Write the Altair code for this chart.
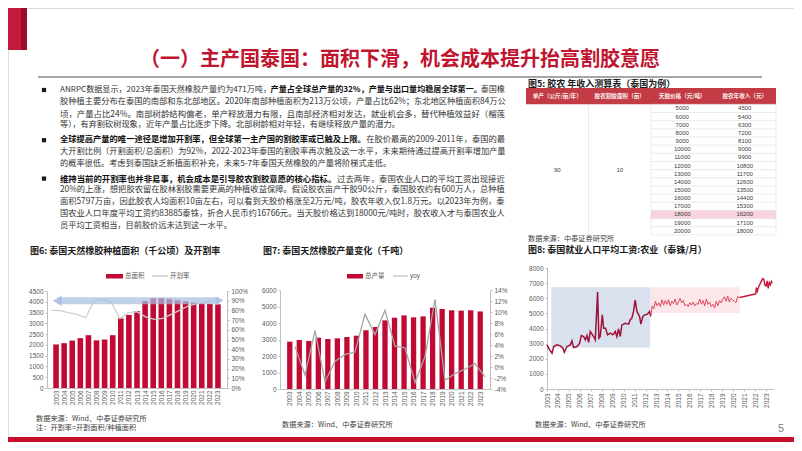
import altair as alt
import pandas as pd

# ---------------- data ----------------
years = list(range(2003, 2024))
area_kha = [2020, 2080, 2200, 2310, 2450, 2210, 2250, 2450, 3230, 3390, 3570,
            4040, 4160, 4170, 4130, 4070, 4020, 3960, 3930, 3900, 3880]
tap_rate_pct = [80.0, 79.7, 77.6, 75.9, 72.4, 90.0, 91.7, 88.3, 71.7, 77.6, 78.6,
                73.4, 70.7, 71.7, 75.9, 80.3, 84.8, 86.9, 88.3, 90.3, 91.3]
production_kt = [2870, 2970, 2910, 3110, 3030, 3070, 3150, 3230, 3560, 3760, 4160,
                 4320, 4460, 4340, 4400, 4930, 4850, 4770, 4750, 4770, 4700]
yoy_pct = [None, 3.7, -1.5, 6.6, -2.7, 1.0, 2.3, 2.7, 9.6, 5.9, 10.3,
           3.8, 3.5, -2.8, 1.9, 12.3, -2.4, -1.2, -0.4, 0.6, -1.8]

wage_a_t = [2003.00, 2003.24, 2003.46, 2003.61, 2003.91, 2004.22, 2004.46, 2004.58, 2004.82,
            2005.13, 2005.28, 2005.43, 2005.74, 2005.98, 2006.13, 2006.34, 2006.50, 2006.65,
            2006.80, 2006.95, 2007.26, 2007.41, 2007.62, 2007.74, 2007.86, 2008.05, 2008.17,
            2008.35, 2008.53, 2008.78, 2009.02, 2009.23, 2009.38, 2009.53, 2009.69, 2009.84,
            2010.14, 2010.45, 2010.60, 2010.75, 2010.90, 2011.05, 2011.21, 2011.45, 2011.57,
            2011.75, 2011.97, 2012.18, 2012.36, 2012.48]
wage_a_v = [2920, 2590, 2370, 2810, 2920, 2850, 2700, 2430, 2810,
            2920, 3180, 2740, 2810, 3030, 3540, 3470, 3250, 3540,
            3090, 3800, 3470, 3250, 6410, 3360, 3470, 4910, 4020,
            4020, 3580, 3690, 3580, 3800, 3470, 3980, 3470, 4240,
            4350, 4290, 4580, 4690, 5130, 5880, 5130, 4800, 4290,
            4800, 4910, 4950, 5130, 4800]
wage_b_t = [2012.48, 2012.6, 2012.75, 2012.9,
            2013.05, 2013.2, 2013.35, 2013.5, 2013.65, 2013.8, 2013.95,
            2014.1, 2014.25, 2014.4, 2014.55, 2014.7, 2014.85,
            2015.0, 2015.15, 2015.3, 2015.45, 2015.6, 2015.75, 2015.9,
            2016.05, 2016.2, 2016.35, 2016.5, 2016.65, 2016.8, 2016.95,
            2017.1, 2017.25, 2017.4, 2017.55, 2017.7, 2017.85,
            2018.0, 2018.15, 2018.3, 2018.45, 2018.6, 2018.75, 2018.9,
            2019.05, 2019.2, 2019.35, 2019.5, 2019.65, 2019.8, 2019.95,
            2020.1, 2020.25, 2020.4, 2020.6]
wage_b_v = [4800, 5500, 5300, 5800,
            5500, 5700, 5450, 5900, 5550, 5850, 5600,
            5900, 5500, 5800, 5650, 5950, 5550,
            5750, 6000, 5700, 5850, 5500, 5600, 5450,
            5700, 5550, 5750, 5500, 5650, 5600, 5950,
            5600, 5850, 5500, 5950, 5600, 5750,
            5450, 5600, 5350, 5800, 5500, 5850, 5700,
            5950, 6100, 5800, 6150, 5750, 6000, 5900,
            5800, 5700, 6100, 6050]
wage_c_t = [2020.6, 2022.0, 2022.05, 2022.12, 2022.2, 2022.35, 2022.55, 2022.7, 2022.8,
            2022.9, 2023.0, 2023.1, 2023.2, 2023.3, 2023.4, 2023.5, 2023.55]
wage_c_v = [6050, 6280, 6300, 6700, 6450, 6800, 7100, 7300, 7250,
            6850, 6800, 7150, 6650, 7050, 6900, 7100, 7000]

blue_box = [2003.4, 2012.42, 2740, 6720]   # year0, year1, value0, value1
pink_box = [2012.42, 2020.6, 5020, 6720]
arrow_span = [2003.7, 2022.6, 4050]        # arrow annotation (years, level)

table_headers = ["单产（公斤/亩/年）", "胶农割胶面积（亩）", "天胶价格（元/吨）", "胶农年收入（元）"]
table_price = [5000, 6000, 7000, 8000, 9000, 10000, 11000, 12000, 13000, 14000,
               15000, 16000, 17000, 18000, 19000, 20000]
table_income = [4500, 5400, 6300, 7200, 8100, 9000, 9900, 10800, 11700, 12600,
                 13500, 14400, 15300, 16200, 17100, 18000]
table_yield = "90"
table_area = "10"
highlight_price = 18000

title_text = "（一）主产国泰国：面积下滑，机会成本提升抬高割胶意愿"
body_lines = [
    [("ANRPC数据显示，2023年泰国天然橡胶产量约为471万吨，", False),
     ("产量占全球总产量的32%，产量与出口量均稳居全球第一。", True), ("泰国橡", False)],
    [("胶种植主要分布在泰国的南部和东北部地区。2020年南部种植面积为213万公顷，产量占比62%；东北地区种植面积84万公", False)],
    [("顷，产量占比24%。南部树龄结构偏老，单产释放潜力有限，且南部经济相对发达，就业机会多，替代种植效益好（榴莲", False)],
    [("等），有弃割砍树现象，近年产量占比逐步下降。北部树龄相对年轻，有继续释放产量的潜力。", False)],
    [("全球提高产量的唯一途径是增加开割率，但全球第一主产国的割胶率或已触及上限。", True),
     ("在胶价最高的2009-2011年，泰国的最", False)],
    [("大开割比例（开割面积/总面积）为92%，2022-2023年泰国的割胶率再次触及这一水平，未来期待通过提高开割率增加产量", False)],
    [("的概率很低。考虑到泰国缺乏新植面积补充，未来5-7年泰国天然橡胶的产量将阶梯式走低。", False)],
    [("维持当前的开割率也并非易事，机会成本是引导胶农割胶意愿的核心指标。", True),
     ("过去两年，泰国农业人口的平均工资出现接近", False)],
    [("20%的上涨，想把胶农留在胶林割胶需要更高的种植收益保障。假设胶农亩产干胶90公斤，泰国胶农约有600万人，总种植", False)],
    [("面积5797万亩，因此胶农人均面积10亩左右，可以看到天胶价格涨至2万元/吨，胶农年收入仅1.8万元。以2023年为例，泰", False)],
    [("国农业人口年度平均工资约83885泰铢，折合人民币约16766元。当天胶价格达到18000元/吨时，胶农收入才与泰国农业人", False)],
    [("员平均工资相当，目前胶价远未达到这一水平。", False)],
]
paragraph_ends = [3, 6, 11]
fig5_title = "图5: 胶农 年收入测算表（泰国为例）"
fig6_title = "图6: 泰国天然橡胶种植面积（千公顷）及开割率"
fig7_title = "图7: 泰国天然橡胶产量变化（千吨）"
fig8_title = "图8: 泰国就业人口平均工资:农业（泰铢/月）"
src_zt = "数据来源：中泰证券研究所"
src_wind = "数据来源：Wind、中泰证券研究所"
note6 = "注：开割率=开割面积/种植面积"
legend6 = ["总面积", "开割率"]
legend7 = ["总产量", "yoy"]
page_no = "5"

# ---------------- styling / layout ----------------
W, H = 786, 435
RED = "#c00a34"
TITLE_RED = "#c0152f"
FONT = "Noto Sans CJK SC"
AXFONT = "Liberation Sans"
LBL = "#595959"
AXC = "#bfbfbf"


def em_w(s):
    w = 0.0
    for ch in s:
        o = ord(ch)
        if o >= 0x2E80:
            w += 1.0
        elif ch.isdigit():
            w += 0.553
        elif ch == "%":
            w += 0.85
        elif ch in ".,:;":
            w += 0.28
        elif ch == "-":
            w += 0.34
        elif ch == "/":
            w += 0.36
        elif ch.isupper():
            w += 0.63
        elif ch == " ":
            w += 0.22
        else:
            w += 0.5
    return w


def px_text(rows, **kw):
    df = pd.DataFrame(rows, columns=["x", "y", "text"])
    kw.setdefault("font", FONT)
    kw.setdefault("baseline", "middle")
    kw.setdefault("align", "left")
    return alt.Chart(df).mark_text(**kw).encode(
        x=alt.X("x:Q", scale=None, axis=None),
        y=alt.Y("y:Q", scale=None, axis=None),
        text="text:N")


def px_text_sized(rows, **kw):
    df = pd.DataFrame(rows, columns=["x", "y", "text", "fs"])
    kw.setdefault("font", FONT)
    kw.setdefault("baseline", "middle")
    kw.setdefault("align", "left")
    return alt.Chart(df).mark_text(**kw).encode(
        x=alt.X("x:Q", scale=None, axis=None),
        y=alt.Y("y:Q", scale=None, axis=None),
        size=alt.Size("fs:Q", scale=None, legend=None),
        text="text:N")


def px_rect(rows, **kw):
    df = pd.DataFrame(rows, columns=["x", "x2", "y", "y2"])
    return alt.Chart(df).mark_rect(**kw).encode(
        x=alt.X("x:Q", scale=None, axis=None), x2="x2:Q",
        y=alt.Y("y:Q", scale=None, axis=None), y2="y2:Q")


def px_rule(rows, **kw):
    df = pd.DataFrame(rows, columns=["x", "x2", "y"])
    return alt.Chart(df).mark_rule(**kw).encode(
        x=alt.X("x:Q", scale=None, axis=None), x2="x2:Q",
        y=alt.Y("y:Q", scale=None, axis=None))


def lin(domain, rng):
    return alt.Scale(domain=domain, range=rng, nice=False, zero=False)


def year_axis(ybase, ticks=False):
    return alt.Axis(orient="bottom", offset=ybase - H, values=years, format="d",
                    labelAngle=-90, labelFont=AXFONT, labelFontSize=6.5, labelColor=LBL,
                    domainColor=AXC, ticks=ticks, tickColor=AXC, tickSize=2, grid=False,
                    title=None, labelPadding=2, labelOverlap=False, labelFlush=False)


def val_axis(orient, xpos, values, fmt=None, expr=None):
    off = -xpos if orient == "left" else xpos - W
    kw = dict(orient=orient, offset=off, values=values, labelFont=AXFONT,
              labelFontSize=6.5, labelColor=LBL, domainColor=AXC, tickColor=AXC,
              tickSize=2, grid=False, title=None, labelPadding=2,
              labelOverlap=False, labelFlush=False)
    if fmt:
        kw["format"] = fmt
    if expr:
        kw["labelExpr"] = expr
    return alt.Axis(**kw)


layers = []

# slide decoration
layers.append(px_rect([(0, 13, 0, 42)], color="#c11a3c"))
layers.append(px_rect([(13, 19, 0, 42)], color="#9c0b2b"))
layers.append(px_rule([(30, 754, 69)], color="#a6a6a6", strokeWidth=2))
layers.append(px_rect([(0, W, 429, 434)], color="#c8102e"))
layers.append(px_text([(392, 52, title_text)], fontSize=20, fontWeight="bold",
                      color=TITLE_RED, align="center"))

# body text (full lines justified to the column width)
body_y = [82, 93.8, 105.6, 117.4, 132.2, 144, 155.8, 170.6, 182.4, 194.2, 206, 217.8]
BODY_FS = 8.2
TEXT_X0, TEXT_W = 52, 445
rows_n, rows_b = [], []
for i, (segs, y) in enumerate(zip(body_lines, body_y)):
    total_em = sum(em_w(s) for s, _ in segs)
    fs = BODY_FS if i in paragraph_ends else max(7.8, min(8.7, TEXT_W / total_em))
    x = TEXT_X0
    for s, bold in segs:
        (rows_b if bold else rows_n).append((x, y, s, fs))
        x += em_w(s) * fs
layers.append(px_text_sized(rows_n, color="#333333"))
layers.append(px_text_sized(rows_b, color="#111111", fontWeight="bold"))
bul = pd.DataFrame({"x": [36, 36, 36], "y": [82, 132.2, 170.6]})
layers.append(alt.Chart(bul).mark_square(size=18, color="#1a1a1a", opacity=1).encode(
    x=alt.X("x:Q", scale=None, axis=None), y=alt.Y("y:Q", scale=None, axis=None)))

# figure titles and sources
layers.append(px_text([(520, 76, fig5_title), (520, 242, fig8_title),
                       (22, 243, fig6_title), (255, 243, fig7_title)],
                      fontSize=9, fontWeight="bold", color="#1a1a1a"))
layers.append(px_text([(520, 231, src_zt), (28, 411, src_wind), (28, 420, note6),
                       (274, 417, src_wind), (527, 417, src_wind)],
                      fontSize=7.2, color="#404040"))
layers.append(px_text([(770, 421, page_no)], font=AXFONT, fontSize=11, color="#7f7f7f"))

# ---------------- table (Fig 5) ----------------
TX = lin([0, 4], [518, 768])
TY = lin([-2, 16], [80, 226.9])
hdr = pd.DataFrame({"x0": [0], "x1": [4], "y0": [-2], "y1": [0]})
layers.append(alt.Chart(hdr).mark_rect(color="#c23b45").encode(
    x=alt.X("x0:Q", scale=TX, axis=None), x2="x1:Q",
    y=alt.Y("y0:Q", scale=TY, axis=None), y2="y1:Q"))
hi_row = table_price.index(highlight_price)
hil = pd.DataFrame({"x0": [2], "x1": [4], "y0": [hi_row], "y1": [hi_row + 1]})
layers.append(alt.Chart(hil).mark_rect(color="#f9d3dd").encode(
    x=alt.X("x0:Q", scale=TX, axis=None), x2="x1:Q",
    y=alt.Y("y0:Q", scale=TY, axis=None), y2="y1:Q"))
hl = pd.DataFrame({"x0": 2, "x1": 4, "y": list(range(0, 17))})
layers.append(alt.Chart(hl).mark_rule(color="#dedede", strokeWidth=0.6).encode(
    x=alt.X("x0:Q", scale=TX, axis=None), x2="x1:Q",
    y=alt.Y("y:Q", scale=TY, axis=None)))
vl = pd.DataFrame({"x": [1, 2, 4], "y0": 0, "y1": 16})
layers.append(alt.Chart(vl).mark_rule(color="#dedede", strokeWidth=0.6).encode(
    x=alt.X("x:Q", scale=TX, axis=None),
    y=alt.Y("y0:Q", scale=TY, axis=None), y2="y1:Q"))
hdr_t = pd.DataFrame({"c": [0.5, 1.5, 2.5, 3.5], "r": -1, "text": table_headers})
layers.append(alt.Chart(hdr_t).mark_text(font=FONT, fontSize=5.6, fontWeight="bold",
                                         color="#fff2f2", baseline="middle").encode(
    x=alt.X("c:Q", scale=TX, axis=None), y=alt.Y("r:Q", scale=TY, axis=None), text="text:N"))
cells = pd.DataFrame({
    "c": [2.5] * 16 + [3.5] * 16 + [0.5, 1.5],
    "r": [i + 0.5 for i in range(16)] * 2 + [8, 8],
    "text": [str(v) for v in table_price] + [str(v) for v in table_income] + [table_yield, table_area]})
layers.append(alt.Chart(cells).mark_text(font=AXFONT, fontSize=6, color="#404040",
                                         baseline="middle").encode(
    x=alt.X("c:Q", scale=TX, axis=None), y=alt.Y("r:Q", scale=TY, axis=None), text="text:N"))

# ---------------- Fig 6 ----------------
df6 = pd.DataFrame({"year": years, "area": area_kha, "rate": tap_rate_pct})
X6 = lin([2002.5, 2023.5], [39, 219])
layers.append(alt.Chart(df6).mark_bar(color=RED, size=5.6).encode(
    x=alt.X("year:Q", scale=X6, axis=year_axis(380)),
    y=alt.Y("area:Q", scale=lin([0, 4500], [380, 283]),
            axis=val_axis("left", 39, list(range(0, 4501, 500)), fmt="d"))))
layers.append(alt.Chart(df6).mark_line(color="#cfcfcf", strokeWidth=1.3).encode(
    x=alt.X("year:Q", scale=X6, axis=None),
    y=alt.Y("rate:Q", scale=lin([0, 100], [380, 283]),
            axis=val_axis("right", 219, list(range(0, 101, 10)), expr="datum.value + '%'"))))
arr = pd.DataFrame({"x0": [arrow_span[0]], "x1": [arrow_span[1]], "v": [arrow_span[2]]})
layers.append(alt.Chart(arr).mark_rule(color="#a9bfe0", strokeWidth=7, opacity=0.72).encode(
    x=alt.X("x0:Q", scale=X6, axis=None), x2="x1:Q",
    y=alt.Y("v:Q", scale=lin([0, 4500], [380, 283]), axis=None)))
layers.append(alt.Chart(arr).mark_point(shape="triangle-left", filled=True, size=110,
                                        color="#a9bfe0", opacity=0.85).encode(
    x=alt.X("x0:Q", scale=X6, axis=None),
    y=alt.Y("v:Q", scale=lin([0, 4500], [380, 283]), axis=None)))
layers.append(alt.Chart(arr).mark_point(shape="triangle-right", filled=True, size=70,
                                        color="#a9bfe0", opacity=0.85).encode(
    x=alt.X("x1:Q", scale=X6, axis=None),
    y=alt.Y("v:Q", scale=lin([0, 4500], [380, 283]), axis=None)))
layers.append(px_rect([(98, 115, 266, 270.5), (339, 355, 266, 270.5)], color=RED))
layers.append(px_rule([(144, 160, 268), (385, 400, 268)], color="#bfbfbf", strokeWidth=1.2))
layers.append(px_text([(117, 268, legend6[0]), (162, 268, legend6[1]),
                       (357, 268, legend7[0])], fontSize=6.5, color=LBL))
layers.append(px_text([(402, 268, legend7[1])], font=AXFONT, fontSize=6.5, color=LBL))

# ---------------- Fig 7 ----------------
df7 = pd.DataFrame({"year": years, "prod": production_kt, "yoy": yoy_pct})
X7 = lin([2002.5, 2023.5], [272, 482])
layers.append(alt.Chart(df7).mark_bar(color=RED, size=5.3).encode(
    x=alt.X("year:Q", scale=X7, axis=year_axis(381)),
    y=alt.Y("prod:Q", scale=lin([0, 6000], [381, 282]),
            axis=val_axis("left", 272, list(range(0, 6001, 1000)), fmt="d"))))
layers.append(alt.Chart(df7.dropna()).mark_line(color="#a6a6a6", strokeWidth=1.3).encode(
    x=alt.X("year:Q", scale=X7, axis=None),
    y=alt.Y("yoy:Q", scale=lin([-4, 14], [381, 282]),
            axis=val_axis("right", 482, list(range(-4, 15, 2)), expr="datum.value + '%'"))))

# ---------------- Fig 8 ----------------
X8 = lin([2003, 2023.7], [539, 765.7])
Y8 = lin([0, 8000], [381, 260])
boxes = pd.DataFrame({"t0": [blue_box[0], pink_box[0]], "t1": [blue_box[1], pink_box[1]],
                      "v0": [blue_box[2], pink_box[2]], "v1": [blue_box[3], pink_box[3]],
                      "k": ["blue", "pink"]})
layers.append(alt.Chart(boxes).mark_rect().encode(
    x=alt.X("t0:Q", scale=X8, axis=year_axis(381, ticks=True)), x2="t1:Q",
    y=alt.Y("v0:Q", scale=Y8, axis=val_axis("left", 539, list(range(0, 8001, 1000)), fmt="d")),
    y2="v1:Q",
    color=alt.Color("k:N", scale=alt.Scale(domain=["blue", "pink"], range=["#d9e1ee", "#fbe6e9"]),
                    legend=None)))
for tt, vv, col, sw in [(wage_a_t, wage_a_v, "#9e1239", 1.5),
                        (wage_b_t, wage_b_v, "#dc4a62", 1.0),
                        (wage_c_t, wage_c_v, "#c8163a", 1.4)]:
    dfw = pd.DataFrame({"t": tt, "v": vv})
    layers.append(alt.Chart(dfw).mark_line(color=col, strokeWidth=sw).encode(
        x=alt.X("t:Q", scale=X8, axis=None),
        y=alt.Y("v:Q", scale=Y8, axis=None)))

chart = alt.layer(*layers).properties(
    width=W, height=H, autosize=alt.AutoSizeParams(type="none"), padding=0
).resolve_scale(x="independent", y="independent", color="independent"
).configure_view(stroke=None).configure(background="white")

chart.save("out.html", embed_options={"renderer": "svg", "actions": False})
